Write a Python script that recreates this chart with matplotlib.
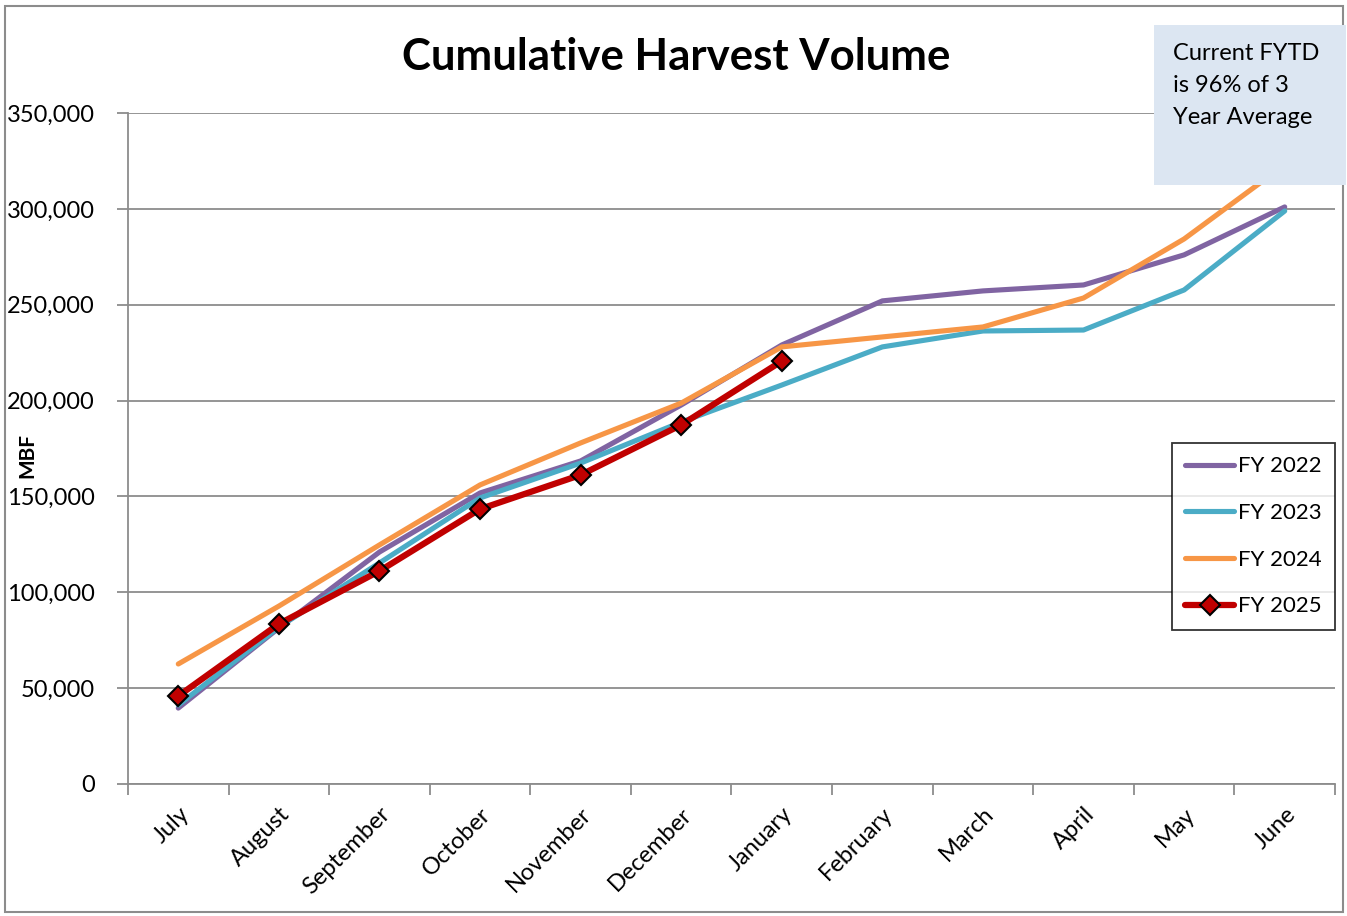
import numpy as np
import matplotlib.pyplot as plt
from matplotlib.patches import Rectangle
from matplotlib.ticker import FuncFormatter

months = ['July', 'August', 'September', 'October', 'November', 'December',
          'January', 'February', 'March', 'April', 'May', 'June']
fy2022 = [39600, 81400, 121000, 151800, 168500, 197700,
          229000, 252000, 257200, 260300, 276000, 301000]
fy2023 = [41200, 81900, 115300, 149200, 167400, 188800,
          208100, 228000, 236300, 236800, 257700, 298900]
fy2024 = [62600, 92800, 124700, 156000, 177900, 198700,
          228000, 233200, 238400, 253500, 284300, 323000]
fy2025 = [45900, 83500, 111100, 143400, 161200, 187300, 220600]

plt.rcParams['font.family'] = ['Lato', 'DejaVu Sans']

fig = plt.figure(figsize=(13.47, 9.16), dpi=100)
ax = fig.add_axes([128 / 1347, 1 - 784 / 916, (1335 - 128) / 1347, (784 - 113) / 916])

x = np.arange(len(months))
ax.plot(x, fy2022, color='#8064A2', lw=3.7, label='FY 2022', solid_capstyle='round', zorder=3)
ax.plot(x, fy2023, color='#4BACC6', lw=3.7, label='FY 2023', solid_capstyle='round', zorder=3)
ax.plot(x, fy2024, color='#F79646', lw=3.7, label='FY 2024', solid_capstyle='round', zorder=3)
ax.plot(x[:len(fy2025)], fy2025, color='#C00000', lw=4.5, marker='D', ms=10,
        mfc='#C00000', mec='black', mew=1.5, label='FY 2025', solid_capstyle='round', zorder=4)

ax.set_xlim(-0.5, 11.5)
ax.set_ylim(0, 350000)
ax.set_yticks(np.arange(0, 350001, 50000))
ax.yaxis.set_major_formatter(FuncFormatter(lambda v, p: f'{int(v):,}'))
ax.grid(axis='y', color='#8C8C8C', lw=1.3)
ax.set_axisbelow(True)

ax.set_xticks(x)
ax.set_xticklabels(months, rotation=45, ha='right', rotation_mode='anchor', fontsize=17)
ax.set_xticks(np.arange(-0.5, 12, 1), minor=True)
ax.tick_params(axis='x', which='major', length=0, pad=14)
ax.tick_params(axis='x', which='minor', length=8, width=1.3, color='#8C8C8C')
ax.tick_params(axis='y', length=8, width=1.3, color='#8C8C8C', labelsize=17, pad=16)

for s in ['top', 'right']:
    ax.spines[s].set_visible(False)
for s in ['left', 'bottom']:
    ax.spines[s].set_color('#8C8C8C')
    ax.spines[s].set_linewidth(1.3)

ax.set_ylabel('MBF', fontsize=15, fontweight='bold')
ax.yaxis.set_label_coords(-0.075, 0.49)

fig.text(0.502, 1 - 57 / 916, 'Cumulative Harvest Volume', fontsize=31.5, fontweight='bold',
         ha='center', va='center')

fig.patches.append(Rectangle((1154 / 1347, 1 - 185 / 916), (1346 - 1154) / 1347, 160 / 916,
                             transform=fig.transFigure, facecolor='#DCE6F2', edgecolor='none', zorder=5))
fig.text(1173 / 1347, 1 - 43 / 916, 'Current FYTD\nis 96% of 3\nYear Average', fontsize=17,
         ha='left', va='top', linespacing=1.65, zorder=6)

fig.patches.append(Rectangle((5 / 1347, 1 - 912 / 916), 1338 / 1347, 906 / 916,
                             transform=fig.transFigure, facecolor='none', edgecolor='#8C8C8C', lw=1.5))

leg = ax.legend(loc='upper left', bbox_to_anchor=(1172 / 1347, 1 - 443 / 916),
                bbox_transform=fig.transFigure, fontsize=16, frameon=True, fancybox=False,
                edgecolor='black', handlelength=2.2, handletextpad=0.15, labelspacing=1.2,
                borderpad=0.6, borderaxespad=0)
leg.get_frame().set_linewidth(1.3)

fig.savefig('out.png', dpi=100)
